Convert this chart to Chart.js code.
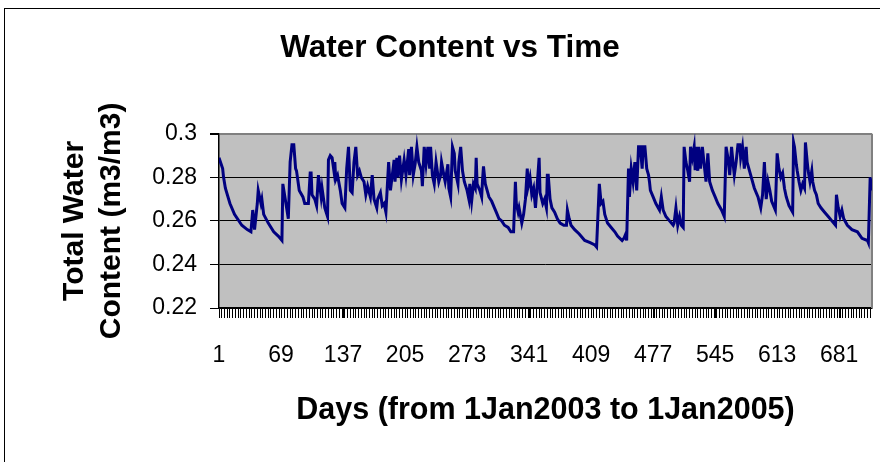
<!DOCTYPE html>
<html>
<head>
<meta charset="utf-8">
<title>Water Content vs Time</title>
<script src="https://cdn.jsdelivr.net/npm/chart.js@4.4.1/dist/chart.umd.min.js"></script>
<style>
  html, body { margin: 0; padding: 0; background: #fff; }
  #wrap { width: 880px; height: 462px; position: relative; }
</style>
</head>
<body>
<div id="wrap"><canvas id="wcChart"></canvas></div>
<script>
// Day number (1 = 1 Jan 2003) of each vertex
const days = [
    1, 5, 6, 8, 13, 18, 26, 32, 36, 38,
    40, 43, 44, 47, 48, 50, 55, 61, 66, 70,
    71, 74, 77, 79, 81, 83, 85, 86, 89, 93,
    95, 99, 101, 102, 103, 106, 108, 110, 113, 114,
    117, 120, 121, 123, 125, 127, 128, 129, 131, 134,
    136, 139, 141, 143, 145, 147, 149, 151, 153, 155,
    157, 160, 162, 164, 167, 169, 171, 174, 175, 178,
    180, 182, 184, 187, 189, 191, 193, 194, 196, 197,
    199, 201, 204, 206, 209, 210, 212, 214, 216, 218,
    220, 223, 224, 226, 228, 230, 232, 233, 235, 237,
    239, 242, 244, 245, 248, 249, 252, 253, 255, 257,
    259, 260, 263, 264, 266, 268, 270, 273, 274, 275,
    276, 278, 280, 282, 283, 284, 287, 289, 290, 291,
    293, 295, 297, 300, 303, 305, 308, 311, 314, 318,
    321, 324, 326, 327, 329, 330, 333, 335, 337, 339,
    340, 342, 344, 346, 348, 350, 352, 353, 356, 358,
    360, 361, 362, 364, 366, 369, 372, 375, 379, 382,
    383, 385, 387, 391, 396, 402, 408, 413, 415, 418,
    420, 422, 424, 427, 431, 435, 438, 443, 445, 447,
    448, 450, 451, 453, 455, 457, 459, 461, 463, 465,
    466, 468, 470, 472, 473, 474, 477, 480, 484, 486,
    488, 491, 495, 499, 500, 502, 504, 506, 508, 510,
    511, 513, 515, 517, 518, 520, 522, 523, 524, 526,
    527, 529, 531, 533, 535, 537, 539, 542, 545, 548,
    552, 555, 557, 559, 561, 563, 565, 566, 568, 570,
    572, 573, 575, 577, 579, 580, 584, 588, 592, 595,
    597, 599, 601, 603, 605, 607, 609, 611, 613, 615,
    617, 619, 621, 623, 626, 630, 631, 632, 634, 635,
    637, 639, 641, 643, 644, 646, 647, 649, 651, 652,
    654, 656, 658, 661, 665, 669, 673, 677, 678, 680,
    682, 684, 686, 690, 695, 701, 706, 712, 713, 715, 717
];

// Total water content (m3/m3) at each of those days
const waterContent = [
    0.289, 0.284, 0.280, 0.275, 0.268, 0.263, 0.258, 0.256, 0.255, 0.265,
    0.256, 0.268, 0.274, 0.268, 0.270, 0.263, 0.259, 0.255, 0.253, 0.251,
    0.277, 0.269, 0.261, 0.287, 0.295, 0.295, 0.284, 0.283, 0.274, 0.271,
    0.268, 0.268, 0.282, 0.282, 0.272, 0.270, 0.267, 0.281, 0.271, 0.275,
    0.266, 0.262, 0.288, 0.290, 0.289, 0.283, 0.287, 0.279, 0.281, 0.274,
    0.268, 0.266, 0.284, 0.294, 0.274, 0.273, 0.287, 0.294, 0.281, 0.283,
    0.280, 0.278, 0.272, 0.276, 0.271, 0.281, 0.270, 0.266, 0.270, 0.273,
    0.267, 0.268, 0.264, 0.287, 0.274, 0.281, 0.288, 0.278, 0.289, 0.280,
    0.290, 0.279, 0.288, 0.281, 0.293, 0.281, 0.294, 0.281, 0.286, 0.294,
    0.287, 0.283, 0.276, 0.294, 0.286, 0.294, 0.284, 0.294, 0.281, 0.277,
    0.287, 0.278, 0.281, 0.287, 0.280, 0.278, 0.286, 0.275, 0.271, 0.294,
    0.291, 0.283, 0.277, 0.287, 0.294, 0.283, 0.278, 0.274, 0.272, 0.270,
    0.277, 0.269, 0.277, 0.275, 0.289, 0.277, 0.274, 0.271, 0.279, 0.285,
    0.277, 0.274, 0.271, 0.269, 0.266, 0.264, 0.261, 0.260, 0.258, 0.257,
    0.255, 0.255, 0.278, 0.268, 0.264, 0.266, 0.259, 0.263, 0.270, 0.284,
    0.276, 0.280, 0.272, 0.275, 0.266, 0.277, 0.289, 0.273, 0.268, 0.270,
    0.266, 0.281, 0.281, 0.270, 0.266, 0.264, 0.261, 0.259, 0.258, 0.258,
    0.265, 0.261, 0.258, 0.256, 0.254, 0.251, 0.250, 0.249, 0.248, 0.277,
    0.268, 0.269, 0.263, 0.259, 0.257, 0.255, 0.253, 0.251, 0.252, 0.254,
    0.251, 0.284, 0.271, 0.284, 0.278, 0.287, 0.274, 0.294, 0.294, 0.284,
    0.294, 0.294, 0.284, 0.281, 0.278, 0.274, 0.271, 0.268, 0.265, 0.271,
    0.265, 0.262, 0.260, 0.258, 0.259, 0.266, 0.258, 0.262, 0.258, 0.257,
    0.294, 0.287, 0.283, 0.278, 0.294, 0.289, 0.294, 0.284, 0.294, 0.283,
    0.294, 0.284, 0.294, 0.286, 0.278, 0.291, 0.278, 0.274, 0.271, 0.268,
    0.265, 0.262, 0.294, 0.289, 0.281, 0.294, 0.285, 0.281, 0.287, 0.295,
    0.295, 0.289, 0.294, 0.284, 0.294, 0.287, 0.281, 0.275, 0.271, 0.266,
    0.272, 0.287, 0.270, 0.278, 0.274, 0.269, 0.267, 0.265, 0.291, 0.284,
    0.280, 0.282, 0.275, 0.271, 0.267, 0.264, 0.296, 0.294, 0.286, 0.283,
    0.278, 0.274, 0.277, 0.275, 0.296, 0.287, 0.283, 0.278, 0.283, 0.278,
    0.274, 0.272, 0.268, 0.266, 0.264, 0.262, 0.260, 0.258, 0.272, 0.266,
    0.262, 0.265, 0.261, 0.258, 0.256, 0.255, 0.252, 0.251, 0.250, 0.280, 0.274
];

const xTickLabels = ['1', '69', '137', '205', '273', '341', '409', '477', '545', '613', '681'];
const yTickValues = [0.22, 0.24, 0.26, 0.28, 0.3];
const yTickLabels = ['0.22', '0.24', '0.26', '0.28', '0.3'];

const FIRST_DAY = 1;
const LAST_DAY = 717;
const TICK_MARK_EVERY = 3;   // minor comb marks along the category axis

const FONT = "'Liberation Sans', Arial, sans-serif";

// grey plot area, chart frame and the grey right-hand border
const plotBackground = {
    id: 'plotBackground',
    beforeDraw(chart) {
        const { ctx, chartArea: a } = chart;
        ctx.save();
        ctx.fillStyle = '#fff';
        ctx.fillRect(0, 0, chart.width, chart.height);
        ctx.strokeStyle = '#000';
        ctx.lineWidth = 1;
        ctx.strokeRect(4.5, 8.5, 1000, 1000);
        ctx.fillStyle = '#c0c0c0';
        ctx.fillRect(a.left, a.top, a.right - a.left, a.bottom - a.top);
        ctx.restore();
    },
    beforeDatasetsDraw(chart) {
        const { ctx, chartArea: a } = chart;
        ctx.save();
        ctx.strokeStyle = '#808080';
        ctx.lineWidth = 2;
        ctx.beginPath();
        ctx.moveTo(a.right, a.top);
        ctx.lineTo(a.right, a.bottom);
        ctx.stroke();
        ctx.restore();
    }
};

const xMarks = [];
for (let d = FIRST_DAY; d <= LAST_DAY; d += TICK_MARK_EVERY) xMarks.push(d);
xTickLabels.forEach(l => { if (!xMarks.includes(Number(l))) xMarks.push(Number(l)); });
xMarks.sort((a, b) => a - b);

const points = days.map((d, i) => ({ x: d, y: waterContent[i] }));

new Chart(document.getElementById('wcChart').getContext('2d'), {
    type: 'line',
    data: {
        datasets: [{
            label: 'Total Water Content',
            data: points,
            borderColor: '#000080',
            borderWidth: 3,
            pointRadius: 0,
            tension: 0,
            fill: false
        }]
    },
    options: {
        responsive: true,
        maintainAspectRatio: false,
        animation: false,
        layout: { padding: { left: 28, right: 8, top: 0, bottom: 0 } },
        plugins: {
            legend: { display: false },
            tooltip: { enabled: false },
            title: {
                display: true,
                text: 'Water Content vs Time',
                color: '#000',
                font: { family: FONT, size: 31.5, weight: 'bold', lineHeight: 1.2 },
                padding: { top: 29, bottom: 67 }
            }
        },
        scales: {
            x: {
                type: 'linear',
                min: FIRST_DAY,
                max: LAST_DAY,
                afterFit: s => { s.height = 154; s.paddingLeft = 0; s.paddingRight = 0; },
                afterBuildTicks: s => { s.ticks = xMarks.map(v => ({ value: v })); },
                ticks: {
                    autoSkip: false,
                    maxRotation: 0,
                    minRotation: 0,
                    padding: 24,
                    color: '#000',
                    font: { family: FONT, size: 23 },
                    callback: v => (xTickLabels.includes(String(v)) ? String(v) : '')
                },
                grid: {
                    drawOnChartArea: false,
                    drawTicks: true,
                    tickLength: 10,
                    tickColor: '#000',
                    tickWidth: 1
                },
                border: { color: '#000', width: 1.5 },
                title: {
                    display: true,
                    text: 'Days (from 1Jan2003 to 1Jan2005)',
                    color: '#000',
                    font: { family: FONT, size: 30.5, weight: 'bold', lineHeight: 1.2 },
                    padding: { top: 0, bottom: 33 }
                }
            },
            y: {
                min: 0.22,
                max: 0.3,
                afterFit: s => { s.width = 191; },
                afterBuildTicks: s => { s.ticks = yTickValues.map(v => ({ value: v })); },
                ticks: {
                    padding: 13,
                    color: '#000',
                    font: { family: FONT, size: 23 },
                    callback: v => yTickLabels[yTickValues.findIndex(t => Math.abs(t - v) < 1e-9)]
                },
                grid: {
                    color: c => (c.tick && c.tick.value > 0.299 ? '#808080' : '#000'),
                    lineWidth: c => (c.tick && c.tick.value > 0.299 ? 2 : 1),
                    tickColor: '#000',
                    tickLength: 9
                },
                border: { color: '#000', width: 1.5 },
                title: {
                    display: true,
                    text: ['Total Water', 'Content (m3/m3)'],
                    color: '#000',
                    font: { family: FONT, size: 30, weight: 'bold', lineHeight: 1.23 },
                    padding: { top: 28, bottom: 0 }
                }
            }
        }
    },
    plugins: [plotBackground]
});
</script>
</body>
</html>
